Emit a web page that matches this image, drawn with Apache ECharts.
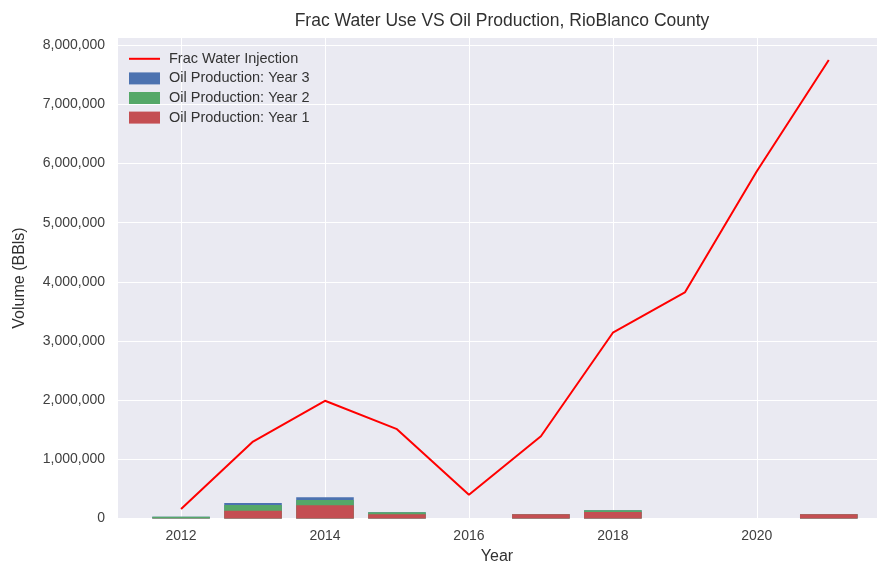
<!DOCTYPE html>
<html>
<head>
<meta charset="utf-8">
<script src="https://cdn.jsdelivr.net/npm/echarts@6/dist/echarts.min.js"></script>
<style>
  html, body { margin: 0; padding: 0; background: #fff; }
  #chart { width: 877px; height: 563px; }
</style>
</head>
<body>
<div id="chart"></div>
<script>
// years on the x axis
const years = [2012, 2013, 2014, 2015, 2016, 2017, 2018, 2019, 2020, 2021];
// frac water injection (BBls)
const fracWater = [160000, 1300000, 1990000, 1510000, 400000, 1390000, 3140000, 3820000, 5870000, 7750000];
// oil production per year of well life, stacked with year 1 at the bottom
const oilYear1 = [5000, 130000, 223000, 71000, 0, 70000, 110000, 0, 0, 70000];
const oilYear2 = [25000, 97000, 89000, 34000, 0, 0, 28000, 0, 0, 0];
const oilYear3 = [0, 33000, 46000, 0, 0, 0, 0, 0, 0, 0];
const xTicks = [2012, 2014, 2016, 2018, 2020];

const xMin = 2011.11, xMax = 2021.67;
const gridLeft = 117, gridRight = 0;
const plotW = 877 - gridLeft - gridRight;
const barW = 0.8 * plotW / (xMax - xMin);

const font = 'Liberation Sans, Arial, sans-serif';

// value-axis bars don't stack, so draw overlapping bars at the cumulative tops
const top1 = oilYear1;
const top2 = oilYear1.map((v, i) => v + oilYear2[i]);
const top3 = top2.map((v, i) => v + oilYear3[i]);
const toPairs = arr => years.map((y, i) => [y, arr[i]]);

const myChart = echarts.init(document.getElementById('chart'));

const barSeries = (name, data, color, z) => ({
    name: name,
    type: 'bar',
    data: toPairs(data),
    barWidth: barW,
    barGap: '-100%',
    itemStyle: { color: color },
    z: z
});

myChart.setOption({
    animation: false,
    backgroundColor: '#fff',
    textStyle: { fontFamily: font },
    title: {
        text: 'Frac Water Use VS Oil Production, RioBlanco County',
        left: gridLeft + plotW / 2,
        textAlign: 'center',
        top: 7,
        textStyle: { fontSize: 17.5, fontWeight: 'normal', color: '#303030', fontFamily: font }
    },
    legend: {
        orient: 'vertical',
        left: 129,
        top: 51.3,
        padding: 0,
        itemWidth: 31,
        itemHeight: 12,
        itemGap: 4.6,
        textStyle: { fontSize: 14.5, color: '#333', fontFamily: font, padding: [0, 0, 0, 4] },
        data: [
            { name: 'Frac Water Injection', icon: 'path://M0,0L0,0M0,5L31,5L31,7L0,7ZM31,12L31,12' },
            { name: 'Oil Production: Year 3', icon: 'rect' },
            { name: 'Oil Production: Year 2', icon: 'rect' },
            { name: 'Oil Production: Year 1', icon: 'rect' }
        ]
    },
    grid: {
        left: gridLeft,
        right: gridRight,
        top: 37.5,
        bottom: 44.5,
        outerBoundsMode: 'none',
        containLabel: false,
        show: true,
        backgroundColor: '#EAEAF2',
        borderWidth: 0
    },
    xAxis: {
        type: 'value',
        min: xMin,
        max: xMax,
        splitNumber: 5,
        name: 'Year',
        nameLocation: 'middle',
        nameGap: 29,
        nameTextStyle: { fontSize: 16, color: '#303030' },
        axisLine: { show: false },
        axisTick: { show: false },
        axisLabel: {
            fontSize: 14,
            color: '#404040',
            margin: 11,
            showMinLabel: false,
            showMaxLabel: false,
            formatter: function (v) {
                return xTicks.indexOf(Math.round(v * 100) / 100) >= 0 ? String(v) : '';
            }
        },
        splitLine: { show: true, lineStyle: { color: '#fff', width: 1 } }
    },
    yAxis: {
        type: 'value',
        min: 0,
        max: 8130000,
        interval: 1000000,
        name: 'Volume (BBls)',
        nameLocation: 'middle',
        nameGap: 89,
        nameTextStyle: { fontSize: 16, color: '#303030' },
        axisLine: { show: false },
        axisTick: { show: false },
        axisLabel: {
            fontSize: 14,
            color: '#404040',
            margin: 12,
            showMaxLabel: false,
            formatter: function (v) {
                if (v % 1000000 !== 0) return '';
                return v.toLocaleString('en-US');
            }
        },
        splitLine: { show: true, lineStyle: { color: '#fff', width: 1 } }
    },
    series: [
        barSeries('Oil Production: Year 3', top3, '#4C72B0', 2),
        barSeries('Oil Production: Year 2', top2, '#55A868', 3),
        barSeries('Oil Production: Year 1', top1, '#C44E52', 4),
        {
            name: 'Frac Water Injection',
            type: 'line',
            data: toPairs(fracWater),
            symbol: 'none',
            lineStyle: { color: '#FF0000', width: 2 },
            itemStyle: { color: '#FF0000' },
            z: 5
        }
    ]
});
</script>
</body>
</html>
